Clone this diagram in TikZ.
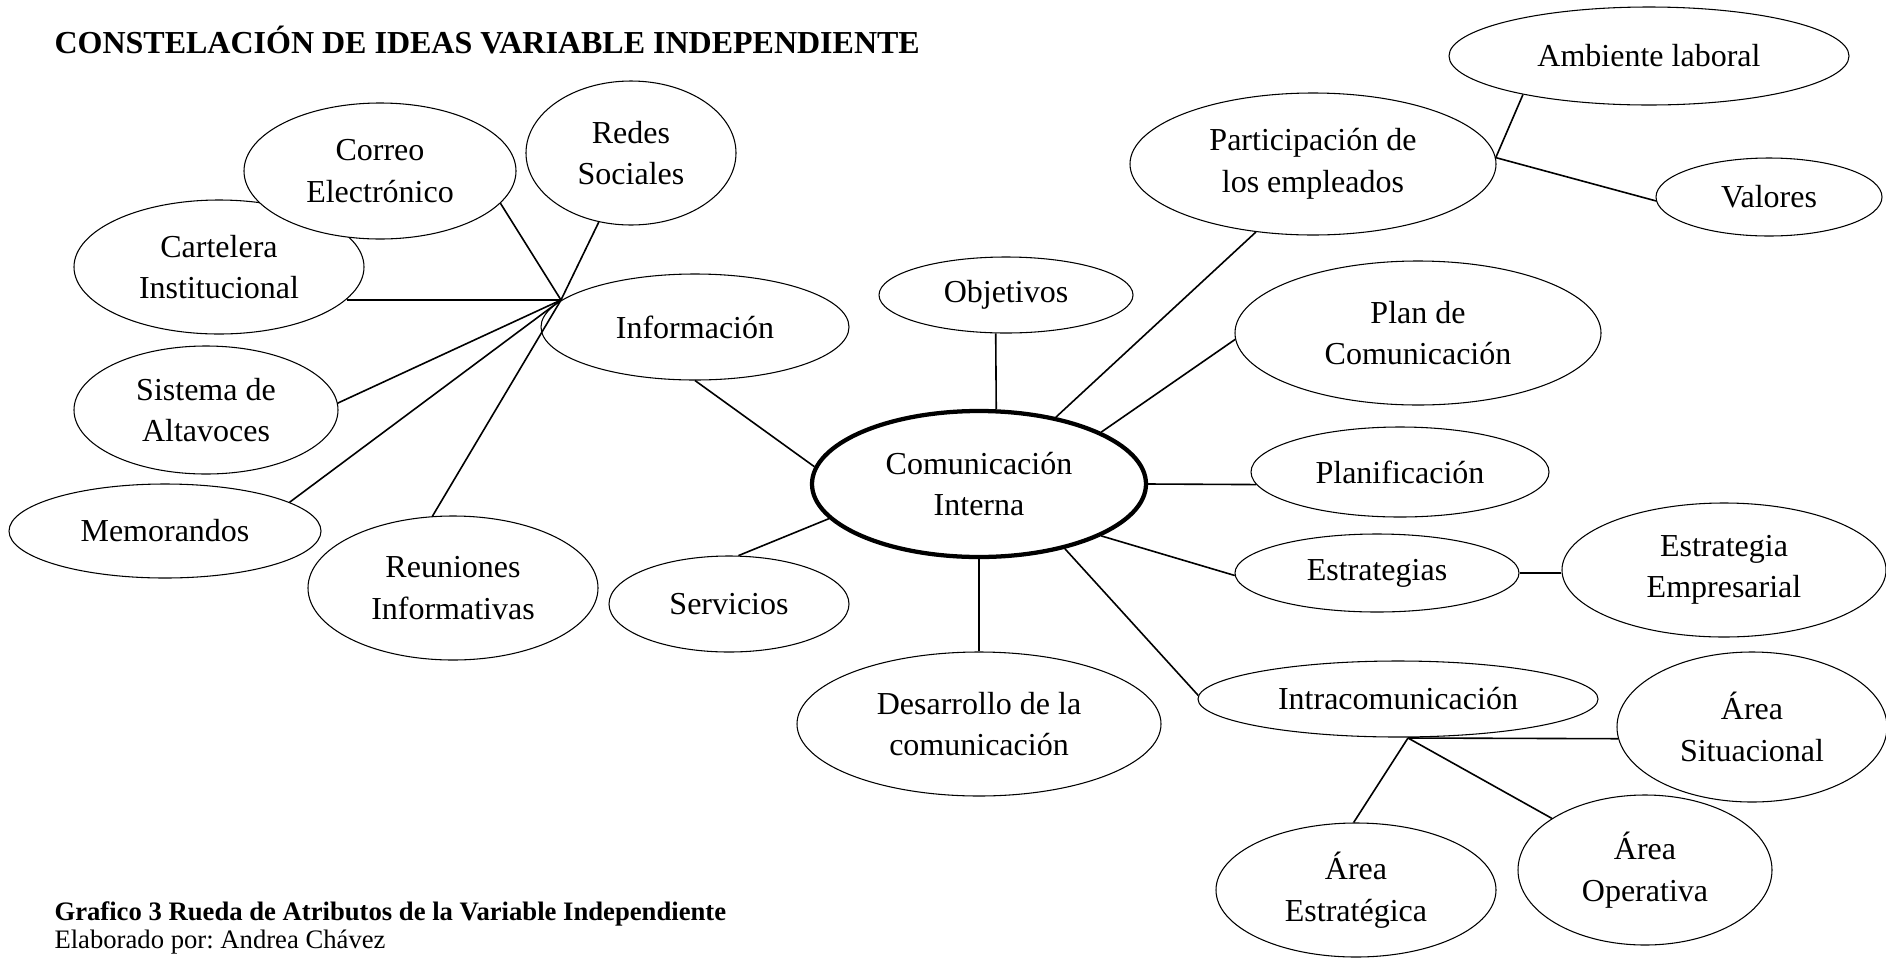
\documentclass[tikz,border=0pt]{standalone}
\usepackage{fontspec}
\setmainfont{Liberation Serif}
\frenchspacing
\usetikzlibrary{shapes.geometric}

\newcommand*{\pxsize}{0.375pt}

\begin{document}
\begin{tikzpicture}
[
	x=\pxsize, y=-\pxsize,
	idea/.style 2 args={ellipse,draw,fill=white,line width=0.4pt,inner sep=0pt,align=center,
		font=\fontsize{12}{15.6}\selectfont,
		minimum width=2*#1*\pxsize, minimum height=2*#2*\pxsize},
	main/.style={line width=1.6pt},
	link/.style={line width=0.6pt},
	heading/.style={anchor=base west,inner sep=0pt}
]

	\useasboundingbox (0,0) rectangle (1886,958);

	% title
	\node[heading,font=\bfseries\fontsize{12}{14}\selectfont] (title) at (54,53)
		{CONSTELACIÓN DE IDEAS VARIABLE INDEPENDIENTE};

	% centre
	\node[idea={167}{73},main] (com) at (979,484) {Comunicación\\Interna};

	% Información and its media
	\node[idea={154}{53}] (info) at (695,327) {Información};
	\node[idea={145}{67}] (cart) at (219,267) {Cartelera\\Institucional};
	\node[idea={136}{68}] (corr) at (380,171) {Correo\\Electrónico};
	\node[idea={105}{72}] (redes) at (631,153) {Redes\\Sociales};
	\node[idea={132}{64}] (sist) at (206,410) {Sistema de\\Altavoces};
	\node[idea={156}{47}] (memo) at (165,531) {Memorandos};
	\node[idea={145}{72}] (reun) at (453,588) {Reuniones\\Informativas};
	\coordinate (infohub) at (561,300);

	\foreach \n/\a in {corr/-15,redes/245,sist/3,memo/13,reun/106} {
		\draw[link] (\n.\a) -- (infohub);
	}
	\draw[link] (cart.-14 |- infohub) -- (infohub);

	% remaining branches
	\node[idea={120}{48}] (serv) at (729,604) {Servicios};
	\node[idea={127}{38}] (obj) at (1006,295) {Objetivos};
	\node[idea={182}{72}] (desa) at (979,724) {Desarrollo de la\\comunicación};
	\node[idea={183}{71}] (part) at (1313,164) {Participación de\\los empleados};
	\node[idea={200}{49}] (amb) at (1649,56) {Ambiente laboral};
	\node[idea={113}{39}] (val) at (1769,197) {Valores};
	\node[idea={183}{72}] (plan) at (1418,333) {Plan de\\Comunicación};
	\node[idea={149}{45}] (planif) at (1400,472) {Planificación};
	\node[idea={142}{39}] (estr) at (1377,573) {Estrategias};
	\node[idea={162}{67}] (emp) at (1724,570) {Estrategia\\Empresarial};
	\node[idea={200}{38}] (intra) at (1398,699) {Intracomunicación};
	\node[idea={135}{75}] (sit) at (1752,727) {Área\\Situacional};
	\node[idea={140}{67}] (aest) at (1356,890) {Área\\Estratégica};
	\node[idea={127}{75}] (aop) at (1645,870) {Área\\Operativa};
	\coordinate (intrahub) at (1408,738);

	% links to the centre
	\draw[link] (info.south) -- (com.174);
	\draw[link] (serv.79) -- (com.193);
	\draw[link] (obj.-105) -- (com.77);
	\draw[link] (part.230) -- (com.41);
	\draw[link] (plan.182) -- (com.23);
	\draw[link] (com.east) -- (planif.185);
	\draw[link] (com.-23) -- (estr.181);
	\draw[link] (com.south) -- (desa.north);
	\draw[link] (com.-37) -- (intra.179);

	% second level
	\draw[link] (estr.east) -- (estr.east -| emp.west);
	\draw[link] (amb.197) -- (part.2) -- (val.182);
	\draw[link] (intrahub) -- (sit.185);
	\draw[link] (intrahub) -- (aest.92);
	\draw[link] (intrahub) -- (aop.151);

	% caption
	\node[heading,font=\bfseries\fontsize{10}{12}\selectfont] (caption) at (54,920)
		{Grafico 3 Rueda de Atributos de la Variable Independiente};
	\node[heading,font=\fontsize{10}{12}\selectfont] (author) at (54,948)
		{Elaborado por: Andrea Chávez};

\end{tikzpicture}
\end{document}
